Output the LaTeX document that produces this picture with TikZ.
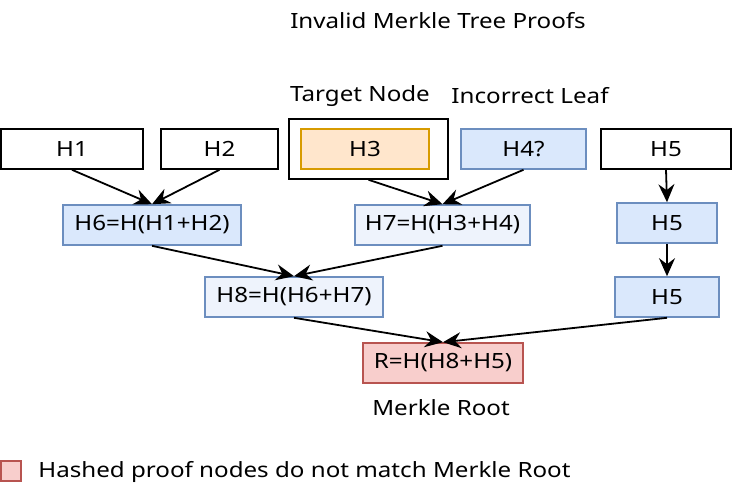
\documentclass[tikz,border=0pt]{standalone}
\usepackage{fontspec}
\setmainfont{Noto Sans}[FakeStretch=1.15]
\usetikzlibrary{arrows.meta}
\definecolor{blueFill}{HTML}{DAE8FC}
\definecolor{blueLine}{HTML}{6C8EBF}
\definecolor{paleFill}{HTML}{EEF3FC}
\definecolor{orangeFill}{HTML}{FFE6CC}
\definecolor{orangeLine}{HTML}{D79B00}
\definecolor{redFill}{HTML}{F8CECC}
\definecolor{redLine}{HTML}{B85450}

\begin{document}
\begin{tikzpicture}[x=0.5pt,y=-0.5pt,
    txt/.style={font=\fontsize{10.5}{12}\selectfont,inner sep=0pt},
    hbox/.style={txt,draw,line width=0.8pt,minimum height=20pt},
    plain/.style={hbox,draw=black,fill=white},
    blue/.style={hbox,draw=blueLine,fill=blueFill},
    pale/.style={hbox,draw=blueLine,fill=paleFill},
    hashto/.style={-{Stealth[length=9pt,width=8pt,inset=3pt]},line width=0.9pt}]
      \useasboundingbox (0,0) rectangle (732,492);
      % titles
      \node[txt] (title) at (438,21) {Invalid Merkle Tree Proofs};
      \node[txt] (tlab) at (360,96) {Target Node};
      \node[txt] (ilab) at (530,96) {Incorrect Leaf};
      % leaves
      \node[plain,minimum width=71pt] (h1) at (72,149) {H1};
      \node[plain,minimum width=58.5pt] (h2) at (219.5,149) {H2};
      \node[draw,line width=0.8pt,minimum width=79.5pt,minimum height=30pt] (tbox) at (368.5,149) {};
      \node[hbox,draw=orangeLine,fill=orangeFill,minimum width=64pt] (h3) at (365,149) {H3};
      \node[blue,minimum width=62.5pt] (h4) at (523.5,149) {H4?};
      \node[plain,minimum width=65pt] (h5) at (666,149) {H5};
      % inner levels
      \node[blue,minimum width=89pt] (h6) at (152,225) {H6=H(H1+H2)};
      \node[pale,minimum width=87.5pt] (h7) at (442.5,225) {H7=H(H3+H4)};
      \node[blue,minimum width=50pt] (h5b) at (667,223) {H5};
      \node[pale,minimum width=89pt] (h8) at (294,297) {H8=H(H6+H7)};
      \node[blue,minimum width=52pt] (h5c) at (667,297) {H5};
      \node[hbox,draw=redLine,fill=redFill,minimum width=80pt] (root) at (443,363) {R=H(H8+H5)};
      \node[txt] (rlab) at (441,408) {Merkle Root};
      % legend
      \node[draw=redLine,fill=redFill,line width=0.8pt,minimum size=10pt,inner sep=0pt] (key) at (11,471) {};
      \node[txt,anchor=west] (keytxt) at (38,472) {Hashed proof nodes do not match Merkle Root};
      % edges
      \draw[hashto] (h1.south) -- (h6.north);
      \draw[hashto] (h2.south) -- (h6.north);
      \draw[hashto] (tbox.south) -- (h7.north);
      \draw[hashto] (h4.south) -- (h7.north);
      \draw[hashto] (h5.south) -- (h5b.north);
      \draw[hashto] (h5b.south) -- (h5c.north);
      \draw[hashto] (h6.south) -- (h8.north);
      \draw[hashto] (h7.south) -- (h8.north);
      \draw[hashto] (h8.south) -- (root.north);
      \draw[hashto] (h5c.south) -- (root.north);
\end{tikzpicture}
\end{document}
